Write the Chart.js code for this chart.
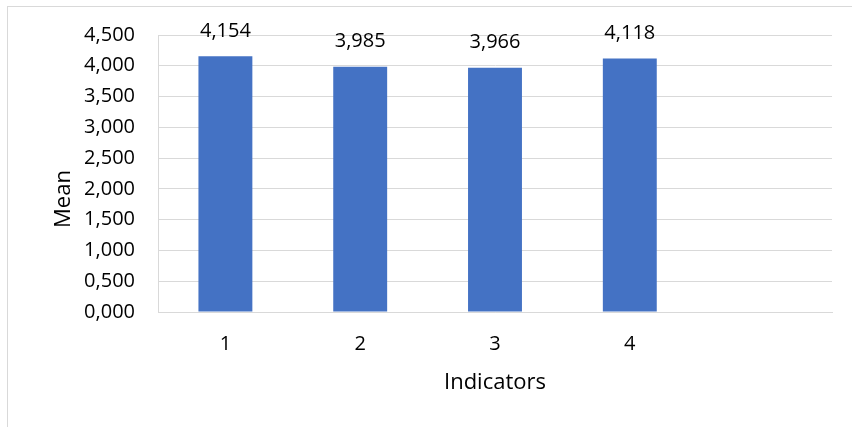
<!DOCTYPE html>
<html>
<head>
<meta charset="utf-8">
<script src="https://cdn.jsdelivr.net/npm/chart.js@4"></script>
<style>
  html, body { margin: 0; padding: 0; background: #fff; overflow: hidden; }
  #frame { position: absolute; left: 7px; top: 6px; width: 900px; height: 500px; border: 1px solid #d9d9d9; box-sizing: border-box; }
  #wrap { position: absolute; left: 0; top: 0; width: 852px; height: 427px; }
</style>
</head>
<body>
<div id="frame"></div>
<div id="wrap"><canvas id="c" width="852" height="427"></canvas></div>
<script>
const categories = ['1', '2', '3', '4', ''];
const meanValues = [4.154, 3.985, 3.966, 4.118, null];
const yTickValues = [0, 0.5, 1, 1.5, 2, 2.5, 3, 3.5, 4, 4.5];
const xAxisTitle = 'Indicators';
const yAxisTitle = 'Mean';

const FONT = "'Open Sans', sans-serif";
const fmt = v => v.toFixed(3).replace('.', ',');

const labelsPlugin = {
  id: 'customLabels',
  afterDatasetsDraw(chart) {
    const ctx = chart.ctx;
    const meta = chart.getDatasetMeta(0);
    ctx.save();
    ctx.fillStyle = '#000';
    ctx.font = '20px ' + FONT;
    ctx.textAlign = 'center';
    ctx.textBaseline = 'alphabetic';
    meta.data.forEach((bar, i) => {
      const v = meanValues[i];
      if (v == null) return;
      ctx.fillText(fmt(v), bar.x, bar.y - 19.5);
    });
    // axis titles
    ctx.font = '22px ' + FONT;
    const ca = chart.chartArea;
    ctx.fillText(xAxisTitle, (ca.left + ca.right) / 2, 389);
    ctx.translate(70, 199);
    ctx.rotate(-Math.PI / 2);
    ctx.fillText(yAxisTitle, 0, 0);
    ctx.restore();
  }
};

new Chart(document.getElementById('c'), {
  type: 'bar',
  data: {
    labels: categories,
    datasets: [{
      data: meanValues,
      backgroundColor: '#4472C4',
      borderWidth: 0,
      barPercentage: 0.4,
      categoryPercentage: 1.0
    }]
  },
  options: {
    responsive: false,
    animation: false,
    devicePixelRatio: 1,
    layout: { padding: { left: 0, right: 20, top: 35, bottom: 0 } },
    plugins: { legend: { display: false }, tooltip: { enabled: false } },
    scales: {
      x: {
        grid: { display: false, drawTicks: false },
        border: { display: true, color: '#d9d9d9', width: 1 },
        ticks: { color: '#000', font: { family: FONT, size: 20 }, padding: 20, maxRotation: 0, autoSkip: false },
        afterFit(scale) { scale.height = 115; }
      },
      y: {
        min: 0, max: 4.5,
        afterBuildTicks(scale) { scale.ticks = yTickValues.map(v => ({ value: v })); },
        grid: { color: '#d9d9d9', lineWidth: 1, drawTicks: false },
        border: { display: true, color: '#d9d9d9', width: 1 },
        ticks: { color: '#000', font: { family: FONT, size: 20 }, padding: 23, callback: v => fmt(v) },
        afterFit(scale) { scale.width = 158; }
      }
    }
  },
  plugins: [labelsPlugin]
});
</script>
</body>
</html>
